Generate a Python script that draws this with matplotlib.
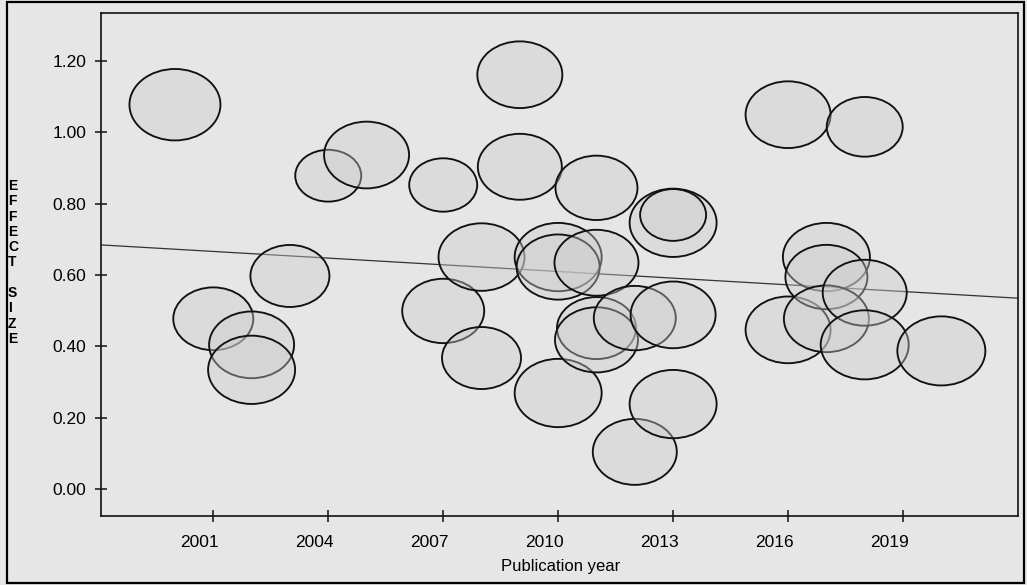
import matplotlib
matplotlib.use("Agg")
import matplotlib.pyplot as plt
from matplotlib.patches import Ellipse, Rectangle
from matplotlib.transforms import ScaledTranslation

# ---- data ----
years = [2000, 2001, 2002, 2002, 2003, 2004, 2005, 2007, 2007, 2008, 2008,
         2009, 2009, 2010, 2010, 2010, 2011, 2011, 2011, 2011, 2012, 2012,
         2013, 2013, 2013, 2013, 2016, 2016, 2017, 2017, 2017, 2018, 2018,
         2018, 2020]
effect = [1.077, 0.477, 0.404, 0.334, 0.597, 0.878, 0.936, 0.852, 0.499, 0.650, 0.367,
          1.161, 0.903, 0.650, 0.622, 0.269, 0.844, 0.634, 0.451, 0.418, 0.479, 0.104,
          0.746, 0.768, 0.488, 0.238, 1.049, 0.446, 0.650, 0.594, 0.477, 1.015, 0.550,
          0.404, 0.387]
weight = [91, 80, 85, 87, 79, 66, 85, 68, 82, 86, 79,
          85, 84, 87, 83, 87, 82, 84, 79, 83, 82, 84,
          87, 66, 85, 87, 85, 85, 87, 82, 85, 76, 84,
          88, 88]
reg_intercept_2000 = 0.672
reg_slope = -0.00624
xticks = [2001, 2004, 2007, 2010, 2013, 2016, 2019]
yticks = [0.0, 0.2, 0.4, 0.6, 0.8, 1.0, 1.2]
ylabel = "EFFECT SIZE"
xlabel = "Publication year"

W, H = 1027, 585
bg = "#e6e6e6"
plt.rcParams["font.family"] = ["Liberation Sans", "DejaVu Sans"]

fig = plt.figure(figsize=(W / 100, H / 100), dpi=100, facecolor=bg)
L, R, T, B = 101, 1018, 13, 516
ax = fig.add_axes([L / W, 1 - B / H, (R - L) / W, (B - T) / H])
ax.set_facecolor(bg)
ax.set_xlim(1998.07, 2022.0)
ax.set_ylim(-0.0757, 1.334)

# pixel -> data scale
p0 = ax.transData.transform((2000, 0))
p1 = ax.transData.transform((2001, 1))
px_per_x = p1[0] - p0[0]
px_per_y = p1[1] - p0[1]

for x, y, wgt in zip(years, effect, weight):
    e = Ellipse((x, y), width=wgt / px_per_x, height=wgt * 0.785 / px_per_y,
                facecolor=(0.80, 0.80, 0.80, 0.40), edgecolor="#111111",
                linewidth=1.35, zorder=3)
    ax.add_patch(e)

x0, x1 = ax.get_xlim()
ax.plot([x0, x1],
        [reg_intercept_2000 + reg_slope * (x0 - 2000), reg_intercept_2000 + reg_slope * (x1 - 2000)],
        color="#333333", linewidth=0.9, zorder=2)

ax.set_xticks(xticks)
ax.set_xticklabels([str(v) for v in xticks])
ax.set_yticks(yticks)
ax.set_yticklabels([f"{v:.2f}" for v in yticks])
ax.tick_params(axis="both", direction="inout", length=9, width=1.1, colors="#111111",
               labelsize=12.5, labelcolor="black")
ax.tick_params(axis="x", pad=9)
ax.tick_params(axis="y", pad=6)
for lab in ax.get_xticklabels():
    lab.set_transform(lab.get_transform() + ScaledTranslation(-14 / 100, 0, fig.dpi_scale_trans))
for s in ax.spines.values():
    s.set_linewidth(1.2)
    s.set_color("#111111")

fig.text(561 / W, 1 - 567 / H, xlabel, ha="center", va="center", fontsize=12)

# stacked vertical y label
y_start = 186
for i, ch in enumerate(ylabel):
    if ch == " ":
        continue
    fig.text(8 / W, 1 - (y_start + i * 15.3) / H, ch, ha="left", va="center",
             fontsize=10, fontweight="bold")

fig.patches.append(Rectangle((7 / W, 1 - 583 / H), (1024 - 7) / W, (583 - 2) / H,
                             transform=fig.transFigure, fill=False, edgecolor="black",
                             linewidth=1.6, zorder=10))

fig.savefig("out.png", dpi=100, facecolor=bg)
